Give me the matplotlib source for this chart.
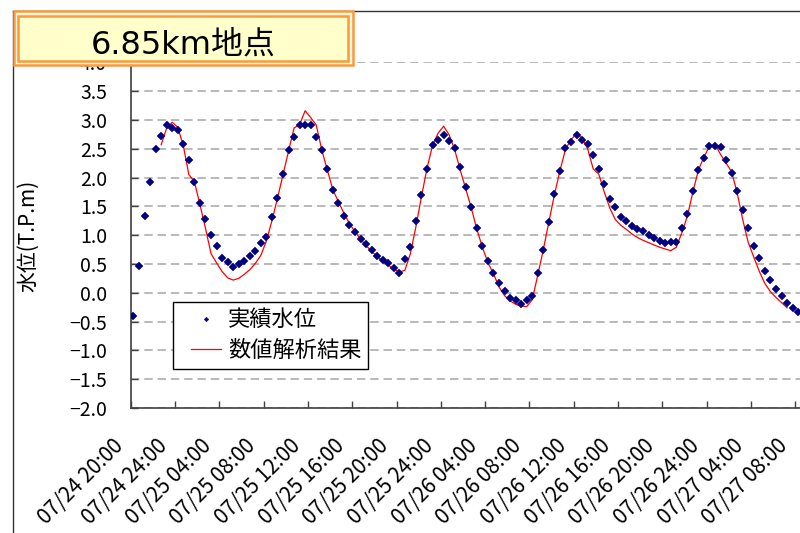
import numpy as np
import matplotlib
matplotlib.use("Agg")
import matplotlib.pyplot as plt
from matplotlib.patches import Rectangle
from matplotlib.lines import Line2D
from matplotlib.legend_handler import HandlerLine2D
from matplotlib.ticker import FuncFormatter
from matplotlib.transforms import ScaledTranslation

plt.rcParams['font.family'] = ['Noto Sans CJK JP', 'DejaVu Sans']
plt.rcParams['axes.unicode_minus'] = True

# time labels, one every 4 hours (8 half-hour steps)
tick_labels = ['07/24 20:00', '07/24 24:00', '07/25 04:00', '07/25 08:00',
               '07/25 12:00', '07/25 16:00', '07/25 20:00', '07/25 24:00',
               '07/26 04:00', '07/26 08:00', '07/26 12:00', '07/26 16:00',
               '07/26 20:00', '07/26 24:00', '07/27 04:00', '07/27 08:00']
steps_per_label = 8

# observed water level (T.P. m), every 30 minutes
observed = [-0.40, 0.47, 1.33, 1.92, 2.49, 2.72, 2.92, 2.86, 2.83, 2.58,
            2.30, 1.93, 1.55, 1.28, 1.01, 0.81, 0.60, 0.53, 0.45, 0.50,
            0.56, 0.64, 0.73, 0.86, 0.97, 1.31, 1.65, 2.06, 2.47, 2.70,
            2.91, 2.91, 2.91, 2.70, 2.47, 2.14, 1.79, 1.55, 1.33, 1.18,
            1.05, 0.94, 0.84, 0.75, 0.64, 0.57, 0.51, 0.43, 0.35, 0.58,
            0.79, 1.24, 1.69, 2.14, 2.57, 2.66, 2.74, 2.63, 2.51, 2.18,
            1.84, 1.48, 1.13, 0.82, 0.55, 0.35, 0.17, 0.03, -0.09, -0.13,
            -0.19, -0.13, -0.06, 0.34, 0.75, 1.23, 1.72, 2.12, 2.51, 2.62,
            2.74, 2.66, 2.59, 2.39, 2.15, 1.89, 1.63, 1.48, 1.31, 1.24,
            1.16, 1.11, 1.07, 1.01, 0.95, 0.90, 0.86, 0.88, 0.88, 1.13,
            1.37, 1.77, 2.13, 2.34, 2.55, 2.55, 2.53, 2.30, 2.08, 1.77,
            1.43, 1.13, 0.82, 0.60, 0.38, 0.22, 0.06, -0.06, -0.17, -0.27,
            -0.34]

# numerical simulation result, starting at step 5
sim_start = 5
simulated = [2.57, 2.86, 2.96, 2.87, 2.55, 2.05, 1.93, 1.53, 1.12, 0.68,
             0.52, 0.37, 0.26, 0.22, 0.25, 0.32, 0.40, 0.51, 0.65, 0.90,
             1.25, 1.64, 2.05, 2.46, 2.86, 2.92, 3.16, 3.04, 2.91, 2.48,
             2.13, 1.79, 1.58, 1.38, 1.20, 1.06, 0.93, 0.82, 0.72, 0.63,
             0.55, 0.48, 0.41, 0.36, 0.39, 0.68, 1.15, 1.67, 2.16, 2.56,
             2.77, 2.89, 2.74, 2.48, 2.13, 1.80, 1.47, 1.10, 0.79, 0.52,
             0.33, 0.10, -0.05, -0.14, -0.20, -0.23, -0.24, -0.12, 0.31, 0.75,
             1.23, 1.70, 2.12, 2.49, 2.66, 2.76, 2.68, 2.50, 2.15, 2.06,
             1.75, 1.47, 1.27, 1.17, 1.10, 1.02, 0.96, 0.91, 0.87, 0.83,
             0.79, 0.76, 0.73, 0.79, 1.04, 1.33, 1.75, 2.13, 2.36, 2.54,
             2.58, 2.40, 2.25, 2.10, 1.73, 1.27, 0.87, 0.62, 0.37, 0.16,
             0.02, -0.08, -0.17, -0.26]

title = '6.85km地点'
ylabel = '水位(T.P.m)'
legend_labels = ['実績水位', '数値解析結果']

W, H = 800, 533
fig = plt.figure(figsize=(W / 100, H / 100), dpi=100)
fig.patch.set_facecolor('white')

# plot area in pixels
px_left, px_right, px_top, px_bottom = 130.7, 800.0, 62.3, 408.0
ax = fig.add_axes([px_left / W, 1 - px_bottom / H,
                   (px_right - px_left) / W, (px_bottom - px_top) / H])

x_obs = np.arange(len(observed)) + 0.5
x_sim = np.arange(sim_start, sim_start + len(simulated)) + 0.5

sim_line, = ax.plot(x_sim, simulated, color='#FF0000', lw=0.9, zorder=3)
obs_line, = ax.plot(x_obs, observed, ls='none', marker='D', ms=3.8,
                    color='#000080', mec='#000080', mew=0.3, zorder=4)

n_ticks = len(tick_labels)
ax.set_xlim(0, (px_right - px_left) / (44.31 / steps_per_label))
ax.set_ylim(-2.0, 4.0)
ax.set_xticks(np.arange(n_ticks) * steps_per_label)
ax.set_xticklabels(tick_labels, rotation=45, ha='right', va='center',
                   rotation_mode='anchor', fontsize=15)
ax.set_yticks(np.arange(-2.0, 4.01, 0.5))
ax.yaxis.set_major_formatter(
    FuncFormatter(lambda v, p: f'{v:.1f}'.replace('-', '\u2212')))
for lab in ax.get_yticklabels():
    lab.set_fontsize(14)

ax.tick_params(axis='both', direction='in', length=5, width=1.0,
               color='#404040')
ax.tick_params(axis='y', pad=17)
ax.tick_params(axis='x', pad=25)
offset = ScaledTranslation(-11 / 100, 0, fig.dpi_scale_trans)
for lab in ax.get_xticklabels():
    lab.set_transform(lab.get_transform() + offset)

ax.yaxis.grid(True, color='#A6A6A6', lw=1.1, ls=(0, (5.5, 3.2)))
ax.set_axisbelow(True)
for side in ('top', 'right'):
    ax.spines[side].set_visible(False)
for side in ('left', 'bottom'):
    ax.spines[side].set_color('#404040')
    ax.spines[side].set_linewidth(1.2)

fig.text(28 / W, 1 - 236 / H, ylabel, rotation=90, ha='center',
         va='center', fontsize=15)

leg = ax.legend([obs_line, sim_line], legend_labels, loc='upper left',
                bbox_to_anchor=(0.0637, 0.3075), borderaxespad=0,
                prop={'family': 'Noto Sans CJK JP', 'size': 16},
                fancybox=False, edgecolor='black', framealpha=1,
                borderpad=0.3, labelspacing=0.35, handlelength=1.85,
                handletextpad=0.3, markerscale=0.62,
                handler_map={obs_line: HandlerLine2D(xpad=0.5),
                             sim_line: HandlerLine2D(xpad=0.5)})
leg.get_frame().set_linewidth(1.0)

# chart area border (left and top edges)
fig.add_artist(Line2D([13.3 / W, 13.3 / W], [1 - 10.5 / H, 0],
                      transform=fig.transFigure, color='#333333', lw=1.0,
                      zorder=4))
fig.add_artist(Line2D([13.3 / W, 1.0], [1 - 10.5 / H, 1 - 10.5 / H],
                      transform=fig.transFigure, color='#333333', lw=1.0,
                      zorder=4))

# title box with double orange border
orange = '#F99A3E'
fig.add_artist(Rectangle((14.2 / W, 1 - 65.2 / H), (352.7 - 14.2) / W,
                         (65.2 - 10.8) / H, transform=fig.transFigure,
                         facecolor='#FFF6DC', edgecolor=orange, lw=1.8,
                         zorder=5))
fig.add_artist(Rectangle((18.3 / W, 1 - 61.0 / H), (348.3 - 18.3) / W,
                         (61.0 - 15.8) / H, transform=fig.transFigure,
                         facecolor='#FFFFCC', edgecolor=orange, lw=1.8,
                         zorder=6))
fig.text(183 / W, 1 - 53.3 / H, title, ha='center', va='baseline',
         fontsize=23, family=['DejaVu Sans', 'Noto Sans CJK JP'], zorder=7)

fig.savefig('out.png', dpi=100)
